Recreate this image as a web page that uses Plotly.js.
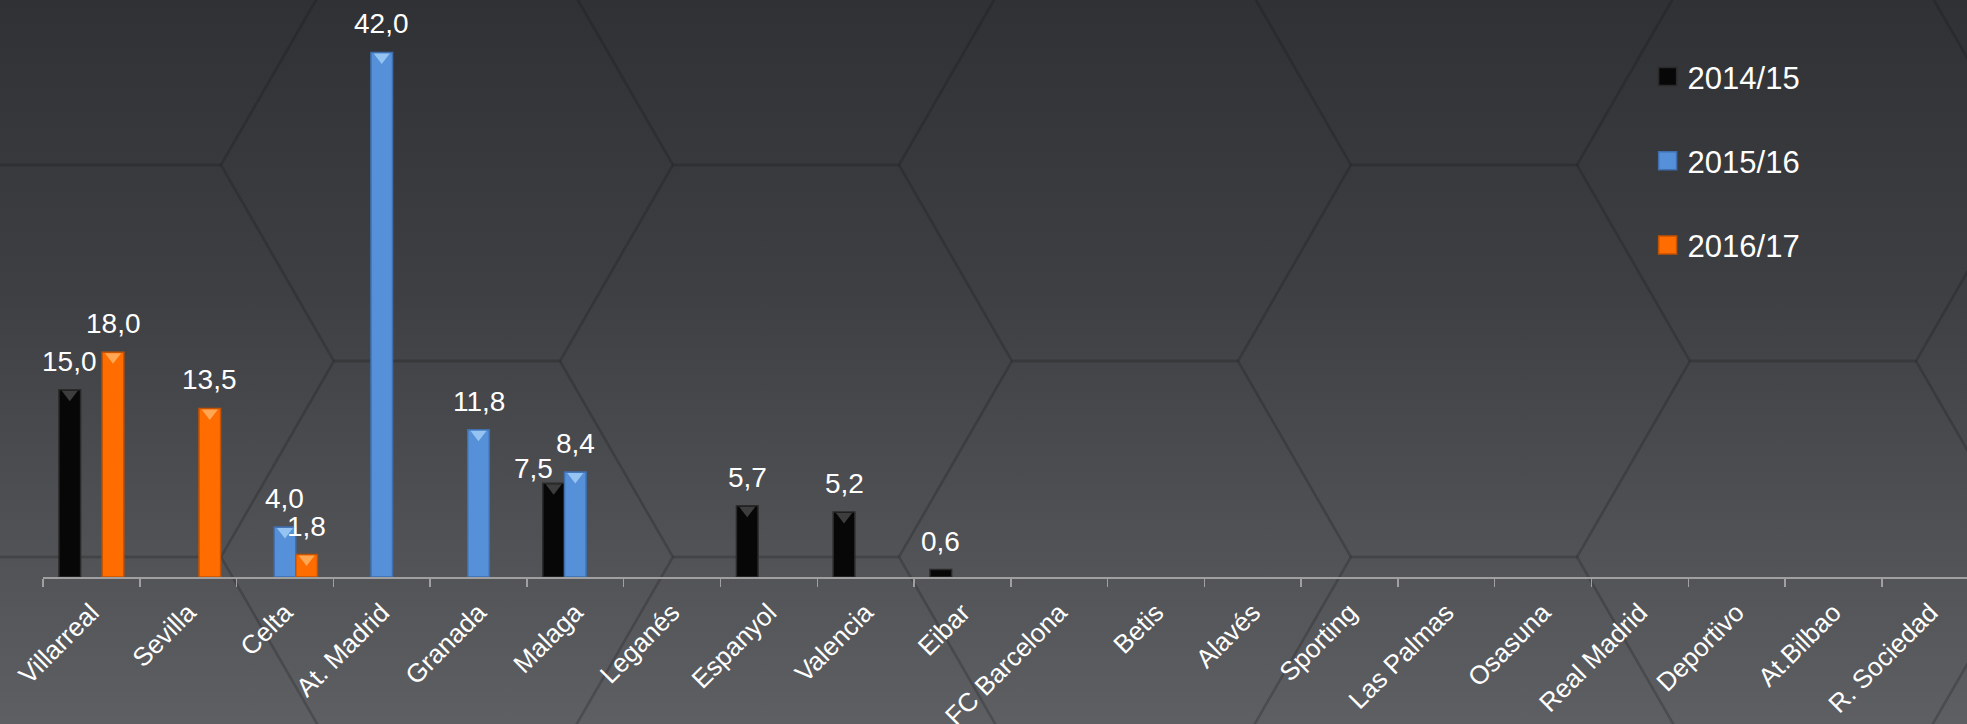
<!DOCTYPE html>
<html>
<head>
<meta charset="utf-8">
<script src="https://cdn.plot.ly/plotly-3.0.1.min.js"></script>
<style>
  html, body { margin: 0; padding: 0; }
  body {
    width: 1967px; height: 724px; overflow: hidden;
    background: linear-gradient(180deg, #303134 0%, #3e3f43 40%, #5d5f63 100%);
  }
  #chart { width: 1967px; height: 724px; }
</style>
</head>
<body>
<div id="chart"></div>
<script>
const teams = ["Villarreal", "Sevilla", "Celta", "At. Madrid", "Granada", "Malaga", "Leganés",
  "Espanyol", "Valencia", "Eibar", "FC Barcelona", "Betis", "Alavés", "Sporting", "Las Palmas",
  "Osasuna", "Real Madrid", "Deportivo", "At.Bilbao", "R. Sociedad"];
const seriesNames = ["2014/15", "2015/16", "2016/17"];
const s2014 = [15.0, null, null, null, null, 7.5, null, 5.7, 5.2, 0.6, null, null, null, null, null, null, null, null, null, null];
const s2015 = [null, null, 4.0, 42.0, 11.8, 8.4, null, null, null, null, null, null, null, null, null, null, null, null, null, null];
const s2016 = [18.0, 13.5, 1.8, null, null, null, null, null, null, null, null, null, null, null, null, null, null, null, null, null];

const values = [s2014, s2015, s2016];
const fills = ["#070707", "#5590d8", "#ff6c00"];
const borders = ["#2a2a2a", "#3f6fae", "#c55200"];
const bevels = ["#444444", "#9ccaf5", "#ffae5c"];

// layout geometry (pixels)
const W = 1967, H = 724, ML = 43, MR = 0, MT = 15, MB = 147;
const XR = [-0.5, 19.38];
const YR = [0, 45];
const BARGAP = 0.33;
const slot = (1 - BARGAP) / 3;
const offs = [-slot, 0, slot];
const FONT = "Liberation Sans, Arial, sans-serif";
const pxPerUnit = (H - MT - MB) / (YR[1] - YR[0]);

const traces = [];
values.forEach((v, k) => {
  traces.push({
    type: "bar",
    name: seriesNames[k],
    x: teams,
    y: v,
    legendgroup: "g" + k,
    marker: { color: fills[k], line: { color: borders[k], width: 1.5 } },
    hoverinfo: "skip"
  });
});
// bevel highlights just inside the bar tops (overlaid numeric axis matching the category axis)
const BEV = 14;
values.forEach((v, k) => {
  const xs = [], ys = [];
  v.forEach((val, i) => {
    if (val !== null && val > 1) { xs.push(i + offs[k]); ys.push(val - (BEV / 4 + 1) / pxPerUnit); }
  });
  traces.push({
    type: "scatter", mode: "markers", xaxis: "x2", yaxis: "y",
    x: xs, y: ys, showlegend: false, hoverinfo: "skip",
    marker: { symbol: "triangle-down", size: BEV, color: bevels[k], opacity: 0.9, line: { width: 0 } }
  });
});

// value labels placed through the axes
const nudge = { "0-5": { dx: -20, dy: -14 } };
const annotations = [];
values.forEach((v, k) => {
  v.forEach((val, i) => {
    if (val === null) return;
    const n = nudge[k + "-" + i] || { dx: 0, dy: 0 };
    annotations.push({
      xref: "x2", yref: "y", x: i + offs[k], y: val,
      text: val.toFixed(1).replace(".", ","),
      showarrow: false, xanchor: "center", yanchor: "bottom",
      xshift: n.dx, yshift: 11 + n.dy,
      font: { family: FONT, size: 28, color: "#ffffff" }
    });
  });
});

// faint honeycomb background
const shapes = [];
const R = 226, HH = 196;
const px2x = p => (p - ML) / (W - ML - MR);
const py2y = p => (H - MB - p) / (H - MT - MB);
for (let c = -4; c <= 3; c++) {
  for (let r = -1; r <= 2; r++) {
    const cx = 1125 + 339 * c;
    const cy = 165 + 392 * r + (Math.abs(c) % 2 === 1 ? -196 : 0);
    const pts = [[cx - R, cy], [cx - R / 2, cy - HH], [cx + R / 2, cy - HH], [cx + R, cy], [cx + R / 2, cy + HH], [cx - R / 2, cy + HH]];
    const path = pts.map((p, j) => (j ? "L" : "M") + px2x(p[0]).toFixed(4) + "," + py2y(p[1]).toFixed(4)).join(" ") + " Z";
    shapes.push({ type: "path", xref: "paper", yref: "paper", path: path, layer: "below",
      line: { color: "rgba(20,21,24,0.13)", width: 2.5 }, fillcolor: "rgba(0,0,0,0)" });
  }
}

const layout = {
  width: W, height: H,
  margin: { l: ML, r: MR, t: MT, b: MB },
  paper_bgcolor: "rgba(0,0,0,0)",
  plot_bgcolor: "rgba(0,0,0,0)",
  barmode: "group",
  bargap: BARGAP,
  bargroupgap: 0,
  font: { family: FONT, color: "#ffffff" },
  xaxis: {
    type: "category",
    range: XR,
    tickson: "boundaries",
    ticks: "outside",
    ticklen: 8,
    tickwidth: 1.5,
    tickcolor: "#a0a0a0",
    showline: true,
    linecolor: "#a0a0a0",
    linewidth: 2,
    showgrid: false,
    zeroline: false,
    tickangle: -45,
    ticklabelstandoff: 8,
    tickfont: { family: FONT, size: 26, color: "#ffffff" },
    fixedrange: true
  },
  xaxis2: { overlaying: "x", range: XR, visible: false, fixedrange: true },
  yaxis: { visible: false, range: YR, fixedrange: true },
  legend: {
    x: 0.834, y: 0.938, xanchor: "left", yanchor: "top",
    font: { family: FONT, size: 31, color: "#ffffff" },
    bgcolor: "rgba(0,0,0,0)",
    tracegroupgap: 41
  },
  annotations: annotations,
  shapes: shapes,
  showlegend: true
};

Plotly.newPlot("chart", traces, layout, { displayModeBar: false, staticPlot: true }).then(gd => {
  gd.querySelectorAll(".legend .legendpoints path").forEach(p => {
    const d = p.getAttribute("d") || "";
    if (d.indexOf("M6,6") === 0) p.setAttribute("d", "M9,9H-9V-9H9Z");
  });
});
</script>
</body>
</html>
